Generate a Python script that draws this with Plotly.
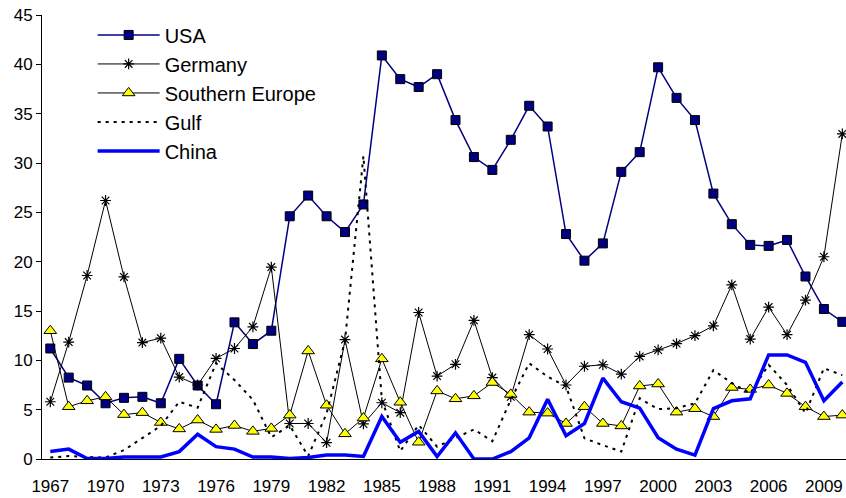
import plotly.graph_objects as go

years = list(range(1967, 2011))

usa = [11.2, 8.25, 7.45, 5.65, 6.2, 6.3, 5.65, 10.15, 7.45, 5.55,
       13.85, 11.65, 13.0, 24.6, 26.7, 24.6, 23.0, 25.8, 40.9, 38.5,
       37.7, 39.0, 34.35, 30.6, 29.3, 32.35, 35.8, 33.7, 22.8, 20.1,
       21.85, 29.1, 31.1, 39.7, 36.6, 34.35, 26.9, 23.8, 21.7, 21.6,
       22.2, 18.5, 15.2, 13.9]

germany = [5.8, 11.85, 18.6, 26.2, 18.45, 11.8, 12.25, 8.3, 7.5, 10.2,
           11.2, 13.4, 19.45, 3.6, 3.6, 1.65, 12.1, 3.55, 5.7, 4.7,
           14.85, 8.4, 9.6, 14.05, 8.25, 6.3, 12.6, 11.15, 7.5, 9.4,
           9.55, 8.6, 10.4, 11.05, 11.7, 12.5, 13.5, 17.65, 12.15, 15.4,
           12.6, 16.1, 20.5, 32.95]

southern_europe = [13.0, 5.3, 5.9, 6.3, 4.5, 4.7, 3.7, 3.05, 3.95, 3.0,
                   3.4, 2.8, 3.1, 4.45, 10.95, 5.45, 2.55, 4.15, 10.15, 5.75,
                   1.7, 6.9, 6.1, 6.4, 7.75, 6.55, 4.75, 4.65, 3.6, 5.3,
                   3.6, 3.35, 7.4, 7.6, 4.75, 5.1, 4.3, 7.25, 7.05, 7.5,
                   6.65, 5.3, 4.3, 4.45]

gulf = [0.15, 0.3, 0.2, 0.15, 0.9, 2.1, 3.35, 5.8, 5.2, 9.7,
        8.0, 6.0, 2.2, 3.4, 0.3, 4.6, 12.0, 30.7, 6.0, 0.8,
        3.45, 1.25, 2.1, 3.0, 1.8, 6.0, 9.7, 8.35, 7.35, 2.1,
        1.4, 0.75, 6.15, 5.05, 5.15, 5.65, 9.0, 7.7, 6.65, 9.55,
        7.5, 4.65, 9.2, 8.5]

china = [0.75, 1.0, 0.05, 0.05, 0.2, 0.2, 0.2, 0.75, 2.5, 1.25,
         1.0, 0.2, 0.2, 0.05, 0.15, 0.4, 0.4, 0.25, 4.3, 1.7,
         2.8, 0.25, 2.65, 0.0, 0.0, 0.75, 2.15, 6.05, 2.35, 3.6,
         8.2, 5.8, 5.15, 2.15, 1.0, 0.4, 5.1, 5.9, 6.1, 10.55,
         10.55, 9.8, 5.9, 7.8]

x_label_vals = list(range(1967, 2011, 3))
x_tick_marks = [1966.5 + 2 * i for i in range(22)]
y_tick_vals = list(range(0, 46, 5))
x_range = [1966.55, 2010.2]

fig = go.Figure()
fig.add_trace(go.Scatter(
    x=years, y=usa, name="USA", mode="lines+markers",
    line=dict(color="#000080", width=1.5),
    marker=dict(symbol="square", size=9, color="#000080",
                line=dict(color="#000000", width=1)),
    cliponaxis=False))
fig.add_trace(go.Scatter(
    x=years, y=germany, name="Germany", mode="lines+markers",
    line=dict(color="#000000", width=1),
    marker=dict(symbol="asterisk-open", size=9,
                line=dict(color="#000000", width=1.2)),
    cliponaxis=False))
fig.add_trace(go.Scatter(
    x=years, y=southern_europe, name="Southern Europe", mode="lines+markers",
    line=dict(color="#000000", width=1),
    marker=dict(symbol="triangle-up", size=11, color="#FFFF00",
                line=dict(color="#000000", width=1)),
    cliponaxis=False))
fig.add_trace(go.Scatter(
    x=years, y=gulf, name="Gulf", mode="lines",
    line=dict(color="#000000", width=2, dash="3px,5px")))
fig.add_trace(go.Scatter(
    x=years, y=china, name="China", mode="lines",
    line=dict(color="#0000FF", width=3.5)))

fig.update_layout(
    width=846, height=498,
    margin=dict(l=42, r=0, t=15, b=39),
    paper_bgcolor="white", plot_bgcolor="white",
    font=dict(family="Liberation Sans, Arial, sans-serif", size=17, color="#000000"),
    showlegend=True,
    legend=dict(x=0.063, y=0.999, xanchor="left", yanchor="top",
                font=dict(size=20), itemwidth=62,
                bgcolor="rgba(0,0,0,0)", tracegroupgap=0),
    xaxis=dict(range=x_range, tickmode="array", tickvals=x_label_vals,
               ticktext=[str(v) for v in x_label_vals],
               ticks="", showgrid=False, zeroline=False,
               showline=True, linecolor="#000000", linewidth=1,
               ticklabelstandoff=12),
    xaxis2=dict(range=x_range, overlaying="x", anchor="y", side="bottom",
                tickmode="array", tickvals=x_tick_marks,
                ticks="outside", ticklen=5, tickcolor="#000000",
                showticklabels=False, showgrid=False, zeroline=False,
                showline=False),
    yaxis=dict(range=[0, 45], tickmode="array", tickvals=y_tick_vals,
               ticks="outside", ticklen=5, tickcolor="#000000",
               showgrid=False, zeroline=False,
               showline=True, linecolor="#000000", linewidth=1),
)

fig.write_html("out.html", config={"displayModeBar": False},
               post_script="document.body.style.margin='0';document.body.style.padding='0';")
